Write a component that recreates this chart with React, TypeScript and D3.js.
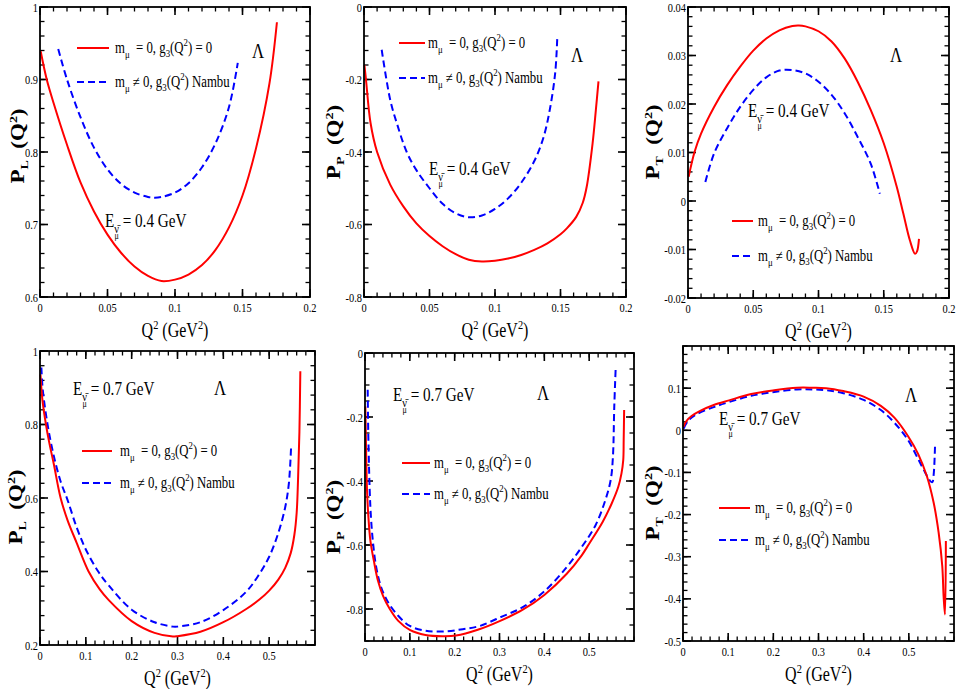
import { curveCatmullRom, line, scaleLinear } from 'd3';
import type { ReactNode } from 'react';

type Pt = [number, number];

const SERIF = '"Liberation Serif", "DejaVu Serif", serif';
// the whole figure is squeezed horizontally, so text is too
const SX = 0.8;
const RED = '#ff0000';
const BLUE = '#0000ff';

// tick values
const xTicks02 = [0, 0.05, 0.1, 0.15, 0.2];
const xTicks06 = [0, 0.1, 0.2, 0.3, 0.4, 0.5];
const yTicksPL04 = [0.6, 0.7, 0.8, 0.9, 1];
const yTicksPP04 = [-0.8, -0.6, -0.4, -0.2, 0];
const yTicksPT04 = [-0.02, -0.01, 0, 0.01, 0.02, 0.03, 0.04];
const yTicksPL07 = [0.2, 0.4, 0.6, 0.8, 1];
const yTicksPP07 = [-0.8, -0.6, -0.4, -0.2, 0];
const yTicksPT07 = [-0.5, -0.4, -0.3, -0.2, -0.1, 0, 0.1];

// E = 0.4 GeV, [Q^2, P]
const pL04Red: Pt[] = [
  [0.0005, 0.939], [0.005, 0.9], [0.01, 0.868], [0.02, 0.81], [0.03, 0.758], [0.04, 0.718],
  [0.05, 0.686], [0.06, 0.661], [0.07, 0.642], [0.08, 0.629], [0.09, 0.622], [0.1, 0.624],
  [0.11, 0.631], [0.12, 0.644], [0.13, 0.665], [0.14, 0.696], [0.15, 0.74], [0.16, 0.805],
  [0.17, 0.895], [0.1755, 0.979],
];
const pL04Blue: Pt[] = [
  [0.0135, 0.942], [0.02, 0.9], [0.03, 0.848], [0.04, 0.806], [0.05, 0.776], [0.06, 0.756],
  [0.07, 0.744], [0.08, 0.738], [0.085, 0.737], [0.09, 0.738], [0.1, 0.744], [0.11, 0.757],
  [0.12, 0.779], [0.13, 0.812], [0.14, 0.862], [0.1465, 0.923],
];
const pP04Red: Pt[] = [
  [0.0003, -0.16], [0.0015, -0.2], [0.005, -0.32], [0.01, -0.4], [0.02, -0.49], [0.03, -0.55],
  [0.04, -0.597], [0.05, -0.632], [0.06, -0.66], [0.07, -0.682], [0.08, -0.697], [0.09, -0.702],
  [0.1, -0.7], [0.11, -0.694], [0.12, -0.684], [0.13, -0.67], [0.14, -0.652], [0.15, -0.627],
  [0.155, -0.61], [0.162, -0.579], [0.167, -0.54], [0.17, -0.496], [0.1745, -0.376],
  [0.177, -0.284], [0.179, -0.205],
];
const pP04Blue: Pt[] = [
  [0.0135, -0.118], [0.02, -0.256], [0.025, -0.32], [0.0326, -0.4], [0.04, -0.45], [0.05, -0.5],
  [0.06, -0.543], [0.07, -0.569], [0.08, -0.58], [0.09, -0.575], [0.1, -0.557], [0.11, -0.528],
  [0.12, -0.485], [0.13, -0.425], [0.137, -0.36], [0.142, -0.28], [0.146, -0.18], [0.1475, -0.088],
];
const pT04Red: Pt[] = [
  [0.0005, 0.005], [0.005, 0.0101], [0.01, 0.0139], [0.02, 0.0194], [0.03, 0.0239], [0.04, 0.0277],
  [0.05, 0.031], [0.06, 0.0335], [0.07, 0.0352], [0.08, 0.0361], [0.085, 0.0362], [0.09, 0.036],
  [0.1, 0.035], [0.11, 0.0329], [0.12, 0.0294], [0.13, 0.0246], [0.14, 0.0188], [0.15, 0.0119],
  [0.16, 0.0029], [0.165, -0.0026], [0.17, -0.0081], [0.174, -0.0109], [0.1755, -0.0104],
  [0.177, -0.0078],
];
const pT04Blue: Pt[] = [
  [0.0133, 0.0039], [0.02, 0.0098], [0.03, 0.015], [0.04, 0.0194], [0.05, 0.0229], [0.06, 0.0255],
  [0.07, 0.0269], [0.08, 0.027], [0.09, 0.0263], [0.1, 0.0246], [0.11, 0.0219], [0.12, 0.0181],
  [0.13, 0.0132], [0.14, 0.0077], [0.147, 0.0015],
];

// E = 0.7 GeV
const pL07Red: Pt[] = [
  [0.001, 0.936], [0.005, 0.87], [0.013, 0.8], [0.02, 0.752], [0.03, 0.693], [0.045, 0.6],
  [0.06, 0.54], [0.08, 0.478], [0.106, 0.4], [0.13, 0.352], [0.15, 0.322], [0.2, 0.265],
  [0.25, 0.233], [0.29, 0.223], [0.3, 0.224], [0.35, 0.236], [0.4, 0.262], [0.45, 0.298],
  [0.48, 0.325], [0.5, 0.348], [0.52, 0.378], [0.535, 0.41], [0.547, 0.45], [0.555, 0.5],
  [0.56, 0.56], [0.563, 0.65], [0.566, 0.78], [0.568, 0.945],
];
const pL07Blue: Pt[] = [
  [0.003, 0.955], [0.006, 0.895], [0.0165, 0.8], [0.03, 0.715], [0.045, 0.645], [0.06, 0.595],
  [0.08, 0.52], [0.1, 0.46], [0.127, 0.4], [0.15, 0.362], [0.2, 0.296], [0.25, 0.262],
  [0.29, 0.25], [0.3, 0.25], [0.35, 0.262], [0.4, 0.295], [0.45, 0.345], [0.478, 0.392],
  [0.5, 0.44], [0.52, 0.505], [0.535, 0.575], [0.543, 0.64], [0.548, 0.743],
];
const pP07Red: Pt[] = [
  [0.0008, -0.167], [0.0023, -0.293], [0.0045, -0.429], [0.0076, -0.513], [0.012, -0.586],
  [0.0197, -0.649], [0.0288, -0.711], [0.04, -0.758], [0.0553, -0.8], [0.0742, -0.837],
  [0.1008, -0.866], [0.1348, -0.881], [0.1727, -0.885], [0.203, -0.883], [0.2515, -0.865],
  [0.3015, -0.837], [0.351, -0.803], [0.4, -0.756], [0.45, -0.69], [0.483, -0.633],
  [0.5, -0.596], [0.53, -0.528], [0.55, -0.471], [0.565, -0.418], [0.572, -0.377],
  [0.576, -0.335], [0.577, -0.272], [0.578, -0.178],
];
const pP07Blue: Pt[] = [
  [0.006, -0.115], [0.0076, -0.272], [0.012, -0.481], [0.0174, -0.586], [0.025, -0.669],
  [0.036, -0.732], [0.0515, -0.779], [0.074, -0.821], [0.1, -0.853], [0.135, -0.868],
  [0.18, -0.87], [0.218, -0.863], [0.256, -0.853], [0.3015, -0.826], [0.351, -0.795],
  [0.4, -0.745], [0.45, -0.669], [0.483, -0.607], [0.514, -0.539], [0.536, -0.46],
  [0.548, -0.397], [0.553, -0.324], [0.556, -0.167], [0.559, -0.052],
];
const pT07Red: Pt[] = [
  [0.0015, 0.0087], [0.0075, 0.022], [0.019, 0.034], [0.038, 0.046], [0.068, 0.06], [0.102, 0.071],
  [0.151, 0.086], [0.202, 0.095], [0.252, 0.101], [0.287, 0.101], [0.317, 0.1], [0.355, 0.093],
  [0.4, 0.08], [0.438, 0.058], [0.468, 0.03], [0.498, -0.0135], [0.521, -0.057], [0.54, -0.109],
  [0.555, -0.172], [0.566, -0.243], [0.574, -0.322], [0.577, -0.394], [0.58, -0.437],
  [0.582, -0.263],
];
const pT07Blue: Pt[] = [
  [0.0015, 0.004], [0.011, 0.022], [0.03, 0.038], [0.068, 0.055], [0.102, 0.067], [0.151, 0.082],
  [0.202, 0.091], [0.252, 0.097], [0.287, 0.097], [0.317, 0.095], [0.355, 0.088], [0.4, 0.072],
  [0.438, 0.048], [0.468, 0.018], [0.498, -0.023], [0.521, -0.069], [0.536, -0.1], [0.547, -0.12],
  [0.552, -0.123], [0.555, -0.105], [0.558, -0.037],
];

interface PanelSpec {
  id: string;
  comp: string;
  energy: string;
  red: Pt[];
  blue: Pt[];
  xDomain: [number, number];
  xTicks: number[];
  xMinor: number;
  yDomain: [number, number];
  yTicks: number[];
  yMinor: number;
  box: [number, number, number, number]; // left, top, right, bottom
  yLab: [number, number];
  legend: [number, number, number, number, number]; // x1, x2, textX, y1, y2
  eLab: [number, number];
  lam: [number, number];
}

const panels: PanelSpec[] = [
  {
    id: 'pl04', comp: 'L', energy: '0.4', red: pL04Red, blue: pL04Blue,
    xDomain: [0, 0.2], xTicks: xTicks02, xMinor: 0.01, yDomain: [0.6, 1], yTicks: yTicksPL04, yMinor: 0.02,
    box: [40, 7, 310, 297], yLab: [17, 146], legend: [77, 109, 115, 48, 82], eLab: [105, 227], lam: [252, 58],
  },
  {
    id: 'pp04', comp: 'P', energy: '0.4', red: pP04Red, blue: pP04Blue,
    xDomain: [0, 0.2], xTicks: xTicks02, xMinor: 0.01, yDomain: [-0.8, 0], yTicks: yTicksPP04, yMinor: 0.04,
    box: [364, 7, 626, 297], yLab: [333, 142], legend: [399, 425, 428, 43, 78], eLab: [429, 175], lam: [571, 62],
  },
  {
    id: 'pt04', comp: 'T', energy: '0.4', red: pT04Red, blue: pT04Blue,
    xDomain: [0, 0.2], xTicks: xTicks02, xMinor: 0.01, yDomain: [-0.02, 0.04], yTicks: yTicksPT04, yMinor: 0.002,
    box: [688, 7, 949, 298], yLab: [652, 142], legend: [732, 753, 758, 221, 256], eLab: [748, 117], lam: [890, 62],
  },
  {
    id: 'pl07', comp: 'L', energy: '0.7', red: pL07Red, blue: pL07Blue,
    xDomain: [0, 0.6], xTicks: xTicks06, xMinor: 0.02, yDomain: [0.2, 1], yTicks: yTicksPL07, yMinor: 0.04,
    box: [40, 351, 315, 645], yLab: [15, 507], legend: [82, 112, 120, 451, 483], eLab: [73, 395], lam: [214, 395],
  },
  {
    id: 'pp07', comp: 'P', energy: '0.7', red: pP07Red, blue: pP07Blue,
    xDomain: [0, 0.6], xTicks: xTicks06, xMinor: 0.02, yDomain: [-0.9, 0], yTicks: yTicksPP07, yMinor: 0.05,
    box: [365, 353, 634, 641], yLab: [333, 517], legend: [402, 430, 434, 463, 494], eLab: [393, 401], lam: [537, 400],
  },
  {
    id: 'pt07', comp: 'T', energy: '0.7', red: pT07Red, blue: pT07Blue,
    xDomain: [0, 0.6], xTicks: xTicks06, xMinor: 0.02, yDomain: [-0.5, 0.2], yTicks: yTicksPT07, yMinor: 0.02,
    box: [683, 346, 954, 641], yLab: [652, 503], legend: [719, 750, 755, 508, 540], eLab: [719, 425], lam: [905, 402],
  },
];

const fmt = (v: number) => (Math.abs(v) < 1e-12 ? '0' : String(+v.toFixed(4)));

function steps(domain: [number, number], step: number) {
  const n = Math.round((domain[1] - domain[0]) / step);
  return Array.from({ length: n + 1 }, (_, i) => domain[0] + i * step);
}

function Squeezed({ x, y, size, anchor = 'start', weight = 'normal', rotate = false, children }: {
  x: number; y: number; size: number; anchor?: string; weight?: string; rotate?: boolean; children: ReactNode;
}) {
  const tf = `translate(${x},${y}) scale(${SX},1)${rotate ? ' rotate(-90)' : ''}`;
  return (
    <text
      transform={tf}
      fontSize={size}
      textAnchor={anchor}
      fontWeight={weight}
      fill="#000"
      style={{ fontFamily: SERIF }}
    >
      {children}
    </text>
  );
}

function Panel({ p }: { p: PanelSpec }) {
  const [l, t, r, b] = p.box;
  const x = scaleLinear().domain(p.xDomain).range([l, r]);
  const y = scaleLinear().domain(p.yDomain).range([b, t]);
  const path = line<Pt>()
    .x((d) => x(d[0]))
    .y((d) => y(d[1]))
    .curve(curveCatmullRom.alpha(0.5));

  const major = 8;
  const minor = 4.5;
  const xMinor = steps(p.xDomain, p.xMinor);
  const yMinor = steps(p.yDomain, p.yMinor);
  const [lx1, lx2, ltx, ly1, ly2] = p.legend;

  return (
    <g>
      {/* minor ticks, all four sides, pointing inward */}
      <g stroke="#000" strokeWidth={1.3}>
        {xMinor.map((v) => (
          <g key={`xm${v}`}>
            <line x1={x(v)} x2={x(v)} y1={b} y2={b - minor} />
            <line x1={x(v)} x2={x(v)} y1={t} y2={t + minor} />
          </g>
        ))}
        {yMinor.map((v) => (
          <g key={`ym${v}`}>
            <line x1={l} x2={l + minor} y1={y(v)} y2={y(v)} />
            <line x1={r} x2={r - minor} y1={y(v)} y2={y(v)} />
          </g>
        ))}
      </g>
      <g stroke="#000" strokeWidth={1.6}>
        {p.xTicks.map((v) => (
          <g key={`xM${v}`}>
            <line x1={x(v)} x2={x(v)} y1={b} y2={b - major} />
            <line x1={x(v)} x2={x(v)} y1={t} y2={t + major} />
          </g>
        ))}
        {p.yTicks.map((v) => (
          <g key={`yM${v}`}>
            <line x1={l} x2={l + major} y1={y(v)} y2={y(v)} />
            <line x1={r} x2={r - major} y1={y(v)} y2={y(v)} />
          </g>
        ))}
      </g>

      <path d={path(p.blue) ?? ''} fill="none" stroke={BLUE} strokeWidth={2} strokeDasharray="7 4" />
      <path d={path(p.red) ?? ''} fill="none" stroke={RED} strokeWidth={2} />

      <rect x={l} y={t} width={r - l} height={b - t} fill="none" stroke="#000" strokeWidth={1.8} />

      {p.xTicks.map((v) => (
        <Squeezed key={`xl${v}`} x={x(v)} y={b + 15} size={13} anchor="middle">
          {fmt(v)}
        </Squeezed>
      ))}
      {p.yTicks.map((v) => (
        <Squeezed key={`yl${v}`} x={l - 2} y={y(v) + 4.5} size={13} anchor="end">
          {fmt(v)}
        </Squeezed>
      ))}

      <Squeezed x={(l + r) / 2} y={b + 40} size={20} anchor="middle">
        Q<tspan dy={-8} fontSize={13}>2</tspan>
        <tspan dy={8}>{'\u00a0(GeV'}</tspan>
        <tspan dy={-8} fontSize={13}>2</tspan>
        <tspan dy={8}>)</tspan>
      </Squeezed>
      <Squeezed x={p.yLab[0] + 7} y={p.yLab[1]} size={23} anchor="middle" weight="bold" rotate>
        P<tspan dy={5} fontSize={14}>{p.comp}</tspan>
        <tspan dy={-5}>{'\u00a0\u00a0(Q'}</tspan>
        <tspan dy={-9} fontSize={14}>2</tspan>
        <tspan dy={9}>)</tspan>
      </Squeezed>

      <line x1={lx1} x2={lx2} y1={ly1} y2={ly1} stroke={RED} strokeWidth={2} />
      <line x1={lx1} x2={lx2} y1={ly2} y2={ly2} stroke={BLUE} strokeWidth={2} strokeDasharray="7 4" />
      <Squeezed x={ltx} y={ly1 + 5} size={16}>
        m<tspan dy={5} fontSize={11}>μ</tspan>
        <tspan dy={-5}>{'\u00a0\u00a0= 0, g'}</tspan>
        <tspan dy={4} fontSize={11}>3</tspan>
        <tspan dy={-4}>(Q</tspan>
        <tspan dy={-7} fontSize={11}>2</tspan>
        <tspan dy={7}>{') = 0'}</tspan>
      </Squeezed>
      <Squeezed x={ltx} y={ly2 + 5} size={16}>
        m<tspan dy={5} fontSize={11}>μ</tspan>
        <tspan dy={-5}>{'\u00a0≠ 0, g'}</tspan>
        <tspan dy={4} fontSize={11}>3</tspan>
        <tspan dy={-4}>(Q</tspan>
        <tspan dy={-7} fontSize={11}>2</tspan>
        <tspan dy={7}>{') Nambu'}</tspan>
      </Squeezed>

      <Squeezed x={p.eLab[0]} y={p.eLab[1]} size={19}>
        E<tspan dy={6} fontSize={13}>{'ν\u0304'}</tspan>
        <tspan dx={-5.5} dy={6} fontSize={10}>μ</tspan>
        <tspan dy={-12}>{`\u00a0= ${p.energy} GeV`}</tspan>
      </Squeezed>
      <Squeezed x={p.lam[0]} y={p.lam[1]} size={21}>
        Λ
      </Squeezed>
    </g>
  );
}

export default function App() {
  return (
    <svg
      width={957}
      height={689}
      viewBox="0 0 957 689"
      style={{ position: 'absolute', left: 0, top: 0, background: '#fff', fontFamily: SERIF }}
    >
      <rect width={957} height={689} fill="#fff" />
      {panels.map((p) => (
        <Panel key={p.id} p={p} />
      ))}
    </svg>
  );
}
